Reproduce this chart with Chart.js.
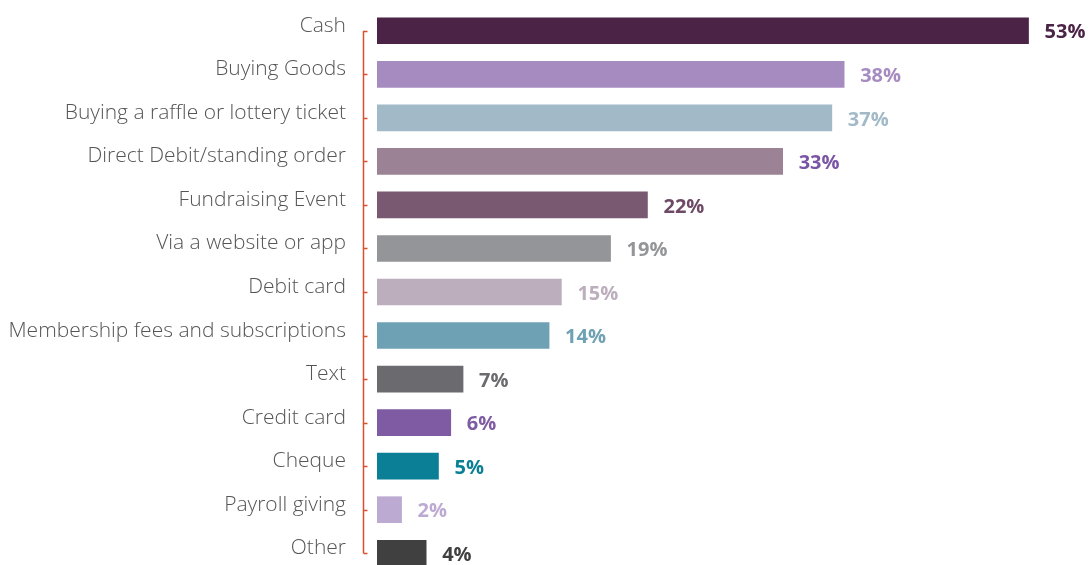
<!DOCTYPE html>
<html>
<head>
<meta charset="utf-8">
<script src="https://cdn.jsdelivr.net/npm/chart.js@4"></script>
<style>
  html, body { margin: 0; padding: 0; background: #fff; overflow: hidden; }
  #wrap { width: 1090px; height: 565px; overflow: hidden; }
</style>
</head>
<body>
<div id="wrap"><canvas id="chart_metodos" width="1090" height="580"></canvas></div>
<script>
const categorias = [
    'Cash', 'Buying Goods', 'Buying a raffle or lottery ticket', 'Direct Debit/standing order',
    'Fundraising Event', 'Via a website or app', 'Debit card', 'Membership fees and subscriptions',
    'Text', 'Credit card', 'Cheque', 'Payroll giving', 'Other'
];
const porcentajes = [53, 38, 37, 33, 22, 19, 15, 14, 7, 6, 5, 2, 4];
const coloresBarra = [
    '#4b2346', '#a68bc0', '#a2b9c8', '#9b8294', '#795972', '#949598', '#bcaebd',
    '#6fa1b4', '#6b6b6f', '#7f5ba3', '#0b7f96', '#bcaad3', '#404040'
];
const coloresEtiqueta = [
    '#4b2346', '#a68bc0', '#a2b9c8', '#7b55a5', '#6e4a66', '#949598', '#bcaebd',
    '#6fa1b4', '#6b6b6f', '#7f5ba3', '#0b7f96', '#bcaad3', '#404040'
];

// linea roja del eje con marcas a la derecha
const ejePlugin = {
    id: 'ejeRojo',
    afterDraw(chart) {
        const ctx = chart.ctx;
        const y = chart.scales.y;
        const x0 = 363.5;
        const top = y.getPixelForValue(0);
        const bottom = y.getPixelForValue(categorias.length - 1);
        ctx.save();
        ctx.strokeStyle = '#d9512c';
        ctx.lineWidth = 1.5;
        ctx.beginPath();
        ctx.moveTo(x0, top);
        ctx.lineTo(x0, bottom);
        categorias.forEach((c, i) => {
            const py = Math.round(y.getPixelForValue(i)) + 0.5;
            ctx.moveTo(x0, py);
            ctx.lineTo(x0 + 4, py);
        });
        ctx.stroke();
        ctx.restore();
    }
};

// porcentajes al final de cada barra
const valoresPlugin = {
    id: 'valores',
    afterDatasetsDraw(chart) {
        const ctx = chart.ctx;
        const meta = chart.getDatasetMeta(0);
        ctx.save();
        ctx.font = 'bold 20px "Open Sans"';
        ctx.textAlign = 'left';
        ctx.textBaseline = 'middle';
        meta.data.forEach((bar, i) => {
            ctx.fillStyle = coloresEtiqueta[i];
            ctx.fillText(porcentajes[i] + '%', bar.x + 16, bar.y + 2);
        });
        ctx.restore();
    }
};

const ctx = document.getElementById('chart_metodos').getContext('2d');
new Chart(ctx, {
    type: 'bar',
    data: {
        labels: categorias,
        datasets: [{
            data: porcentajes,
            backgroundColor: coloresBarra,
            barThickness: 26,
            borderWidth: 0
        }]
    },
    options: {
        indexAxis: 'y',
        responsive: false,
        animation: false,
        layout: { padding: { top: 9, bottom: 5, left: 0, right: 0 } },
        plugins: {
            legend: { display: false },
            tooltip: { enabled: false }
        },
        scales: {
            x: {
                display: false,
                min: 0,
                max: 58
            },
            y: {
                afterFit(scale) {
                    scale.width = 377;
                    scale.paddingTop = 0;
                    scale.paddingBottom = 0;
                },
                border: { display: false },
                grid: { display: false, drawTicks: false },
                ticks: {
                    padding: 31,
                    labelOffset: -5,
                    autoSkip: false,
                    color: '#555555',
                    font: { family: 'Open Sans', size: 21, weight: 300 }
                }
            }
        }
    },
    plugins: [ejePlugin, valoresPlugin]
});
</script>
</body>
</html>
